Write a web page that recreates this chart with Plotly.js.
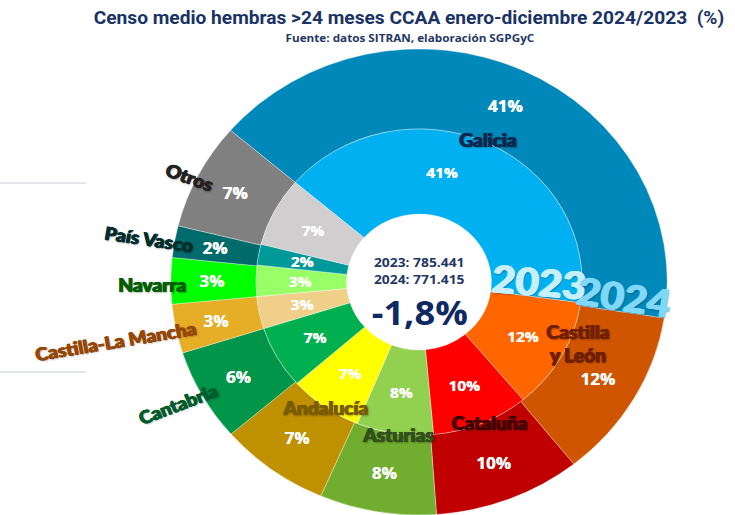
<!DOCTYPE html>
<html><head><meta charset="utf-8">
<script src="https://cdn.plot.ly/plotly-3.0.1.min.js"></script>
<style>
html,body{margin:0;padding:0;background:#fff;overflow:hidden;width:735px;height:515px}
#chart{width:690px;height:515px;transform:scaleX(1.0652);transform-origin:0 0}
</style></head><body><div id="chart"></div>
<script>
// ---- data ----
const categories = ['Galicia','Castilla y León','Cataluña','Asturias','Andalucía','Cantabria','Castilla-La Mancha','Navarra','País Vasco','Otros'];
const share2024 = [41.2, 11.8, 9.6, 7.6, 7.2, 6.4, 3.4, 3.2, 2.2, 7.4];
const share2023 = [40.9, 11.8, 9.6, 7.6, 7.3, 6.6, 3.4, 3.3, 2.2, 7.3];
const total2023 = 785441;
const total2024 = 771415;
const yearLabels = ['2023', '2024'];

// ---- styles ----
const colors2024 = ['#0088BB','#D05500','#C00000','#71AE30','#BF9000','#009548','#E6AD27','#00FF00','#006B6B','#808080'];
const colors2023 = ['#00B0F0','#FF6600','#FF0000','#92D050','#FFFF00','#00B050','#F0CF88','#99FF66','#009999','#D0CECE'];
const labelColors = ['#0B2850','#702000','#420000','#30501C','#7A5C00','#005C2C','#964605','#005E00','#002E2E','#222222'];
// category label placement in reference pixels [x, y, angle]
const labelPos = [[488,140,0],[578,343,0],[489,423,0],[398,435,0],[325,408,0],[178,404,-22],[116,341,-10],[152,285,0],[149,239,9],[190,177,21]];
// small angular nudges (deg) of percentage labels of the inner ring
const innerPctShift = [-13,0,0,0,0,0,0,0,0,0];

const W = 735, H = 515, WU = 690, SX = W / WU;
const px = x => x / W, py = y => 1 - y / H;
const fmt = n => n.toLocaleString('de-DE');
const change = (total2024 / total2023 - 1) * 100;
const changeTxt = (change >= 0 ? '+' : '-') + Math.abs(change).toFixed(1).replace('.', ',') + '%';
const heavy = (c, d) => `${d}px 0 0 ${c}, -${d}px 0 0 ${c}, 0 ${d/2}px 0 ${c}, 1px 1px 2px rgba(0,0,0,0.35)`;

const cx = 419, cy = 282, rOut = 233, rMid = 153, rHole = 68, rot = -49.4;
const domainFor = r => ({x: [px(cx) - r / WU, px(cx) + r / WU], y: [Math.max(0, py(cy) - r / H), py(cy) + r / H]});

const common = {
  type: 'pie', labels: categories, sort: false, direction: 'clockwise', rotation: rot,
  textinfo: 'none', showlegend: false, hoverinfo: 'label+percent'
};
const line = {color: 'rgba(255,255,255,0.55)', width: 0.6};
const outer = Object.assign({}, common, {
  name: yearLabels[1], values: share2024, hole: rMid / rOut, domain: domainFor(rOut),
  marker: {colors: colors2024, line: line}
});
const inner = Object.assign({}, common, {
  name: yearLabels[0], values: share2023, hole: rHole / rMid, domain: domainFor(rMid),
  marker: {colors: colors2023, line: line}
});

const annotations = [];
// percentage labels placed at mid-angle / mid-ring of each slice, computed from the data
function pctLabels(vals, r, size, shift) {
  const tot = vals.reduce((a, b) => a + b, 0);
  let acc = 0;
  vals.forEach((v, i) => {
    const a = (rot + (acc + v / 2) / tot * 360 + (shift ? shift[i] : 0)) * Math.PI / 180;
    acc += v;
    const xu = cx / SX + r * Math.sin(a), yy = cy - r * Math.cos(a);
    annotations.push({xref:'paper', yref:'paper', x: xu / WU, y: py(yy), xanchor:'center', yanchor:'middle',
      text: Math.round(v / tot * 100) + '%', showarrow:false,
      font:{family:'Open Sans', size:size, color:'#FFFFFF', weight:'bold', shadow: '0.3px 0 0 #FFFFFF'}});
  });
}
pctLabels(share2024, 194, 16, null);
pctLabels(share2023, 112, 14.5, innerPctShift);

categories.forEach((c, i) => {
  const p = labelPos[i];
  annotations.push({
    xref: 'paper', yref: 'paper', x: px(p[0]), y: py(p[1]), xanchor: 'center', yanchor: 'middle',
    text: c === 'Castilla y León' ? 'Castilla<br>y León' : c, showarrow: false, textangle: p[2],
    font: {family: 'Lato Black, Lato', size: 18, color: labelColors[i], weight: 900, shadow: heavy(labelColors[i], 0.6)}
  });
});
const mid = {xanchor:'center', yanchor:'middle', xref:'paper', yref:'paper', showarrow:false};
annotations.push(
  Object.assign({x: px(410), y: py(37), text: 'Fuente: datos SITRAN, elaboración SGPGyC',
   font:{family:'Open Sans', size:11, color:'#1F3864', weight:'bold'}}, mid),
  Object.assign({x: px(419), y: py(262), text: yearLabels[0] + ': ' + fmt(total2023),
   font:{family:'Open Sans', size:13, color:'#1F3864', weight:'bold'}}, mid),
  Object.assign({x: px(419), y: py(279), text: yearLabels[1] + ': ' + fmt(total2024),
   font:{family:'Open Sans', size:13, color:'#1F3864', weight:'bold'}}, mid),
  Object.assign({x: px(420), y: py(312), text: changeTxt,
   font:{family:'Open Sans', size:34, color:'#0E2A63', weight:'bold'}}, mid),
  Object.assign({x: px(539), y: py(281), text: yearLabels[0], textangle: 5,
   font:{family:'Lato Black, Lato', size:38, color:'#C6EFFF', weight:900, shadow: heavy('#C6EFFF', 0.8)}}, mid),
  Object.assign({x: px(624), y: py(296), text: yearLabels[1], textangle: 9,
   font:{family:'Lato Black, Lato', size:38, color:'#80D8F8', weight:900, shadow: heavy('#80D8F8', 0.8)}}, mid)
);

const layout = {
  width: WU, height: H, margin: {l:0, r:0, t:0, b:0}, paper_bgcolor: '#FFFFFF',
  title: {text: 'Censo medio hembras >24 meses CCAA enero-diciembre 2024/2023  (%)', x: px(409), xanchor: 'center',
          y: py(18), yanchor: 'middle', font: {family: 'Roboto', size: 18, color: '#1A3366', weight: 'bold'}},
  annotations: annotations,
  shapes: [
    {type:'line', xref:'paper', yref:'paper', x0:0, x1:px(86), y0:py(183), y1:py(183), line:{color:'#D9DCE6', width:1.5}},
    {type:'line', xref:'paper', yref:'paper', x0:0, x1:px(86), y0:py(372), y1:py(372), line:{color:'#D9DCE6', width:1.5}}
  ]
};
Plotly.newPlot('chart', [outer, inner], layout, {displayModeBar: false, staticPlot: true});
</script></body></html>
